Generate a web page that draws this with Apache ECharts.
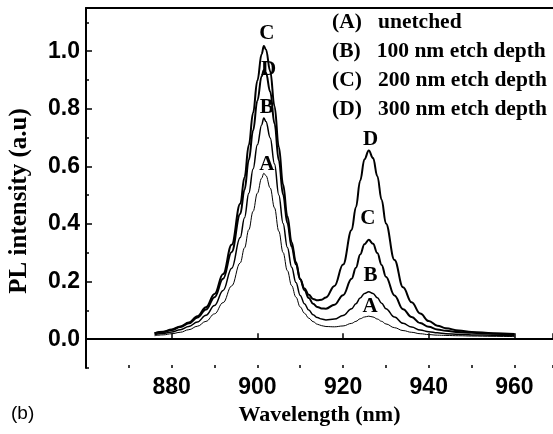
<!DOCTYPE html>
<html>
<head>
<meta charset="utf-8">
<script src="https://cdn.jsdelivr.net/npm/echarts@6/dist/echarts.min.js"></script>
<style>
  html, body { margin: 0; padding: 0; background: #fff; }
  #chart { width: 553px; height: 434px; }
</style>
</head>
<body>
<div id="chart"></div>
<script>
// wavelength samples (nm)
const wavelength = [876, 878, 880, 882, 884, 886, 888, 890, 892, 894, 896, 897, 898, 899, 900, 901, 901.5,
  902, 903, 904, 905, 906, 907, 908, 909, 910, 911, 912, 913, 914, 915, 916, 918, 920, 922,
  923, 924, 925, 926, 927, 928, 929, 930, 932, 934, 936, 938, 940, 942, 944, 947, 950, 955, 960];

// (A) unetched
const unetched = [0.012, 0.015, 0.019, 0.024, 0.033, 0.045, 0.062, 0.088, 0.127, 0.185, 0.265, 0.317, 0.380, 0.444, 0.507, 0.559, 0.576,
  0.568, 0.525, 0.456, 0.375, 0.301, 0.238, 0.186, 0.146, 0.112, 0.090, 0.073, 0.061, 0.052, 0.047, 0.044, 0.043, 0.046, 0.055,
  0.062, 0.071, 0.077, 0.080, 0.077, 0.070, 0.062, 0.053, 0.040, 0.030, 0.024, 0.019, 0.016, 0.014, 0.013, 0.012, 0.011, 0.010, 0.009];
// (B) 100 nm
const etch100 = [0.016, 0.020, 0.025, 0.033, 0.044, 0.060, 0.083, 0.117, 0.169, 0.246, 0.353, 0.422, 0.507, 0.591, 0.675, 0.744, 0.768,
  0.756, 0.699, 0.608, 0.501, 0.402, 0.318, 0.250, 0.197, 0.152, 0.123, 0.101, 0.085, 0.075, 0.070, 0.067, 0.070, 0.082, 0.106,
  0.123, 0.143, 0.159, 0.165, 0.159, 0.144, 0.125, 0.106, 0.077, 0.055, 0.042, 0.032, 0.026, 0.022, 0.019, 0.017, 0.015, 0.014, 0.012];
// (C) 200 nm
const etch200 = [0.021, 0.026, 0.034, 0.044, 0.058, 0.080, 0.111, 0.157, 0.226, 0.328, 0.470, 0.562, 0.674, 0.786, 0.898, 0.990, 1.018,
  1.006, 0.930, 0.809, 0.668, 0.537, 0.427, 0.337, 0.267, 0.208, 0.170, 0.143, 0.123, 0.112, 0.107, 0.106, 0.120, 0.153, 0.210,
  0.248, 0.294, 0.330, 0.345, 0.331, 0.299, 0.258, 0.217, 0.152, 0.104, 0.077, 0.056, 0.043, 0.034, 0.029, 0.025, 0.022, 0.019, 0.017];
// (D) 300 nm
const etch300 = [0.021, 0.025, 0.032, 0.042, 0.055, 0.075, 0.103, 0.146, 0.210, 0.303, 0.435, 0.519, 0.622, 0.725, 0.828, 0.913, 0.935,
  0.925, 0.859, 0.749, 0.621, 0.502, 0.403, 0.321, 0.259, 0.208, 0.176, 0.154, 0.140, 0.135, 0.137, 0.145, 0.185, 0.259, 0.379,
  0.458, 0.551, 0.625, 0.655, 0.629, 0.566, 0.484, 0.402, 0.275, 0.180, 0.128, 0.089, 0.063, 0.047, 0.038, 0.030, 0.025, 0.021, 0.018];

const curveKeys = ['A', 'B', 'C', 'D'];
const legendNames = ['(A)   unetched', '(B)   100 nm etch depth', '(C)   200 nm etch depth', '(D)   300 nm etch depth'];
// where the letters sit next to each peak [nm, intensity]
const letterSpots = {
  A: [[902.2, 0.608], [926.3, 0.113]],
  B: [[902.2, 0.803], [926.4, 0.22]],
  C: [[902.2, 1.061], [925.8, 0.42]],
  D: [[902.6, 0.935], [926.4, 0.692]]
};
const xTickLabels = [880, 900, 920, 940, 960];
const yTickLabels = ['0.0', '0.2', '0.4', '0.6', '0.8', '1.0'];

const X_MIN = 860, X_MAX = 969;
const Y_MIN = -0.1, Y_MAX = 1.15;
const W = 553, H = 434;
const LEFT = 86, RIGHT = 0, TOP = 8, BOTTOM = 66;
// second grid only carries the major y ticks/labels, starting at 0
const BOTTOM2 = BOTTOM + (0 - Y_MIN) / (Y_MAX - Y_MIN) * (H - TOP - BOTTOM);

const serif = '"Liberation Serif", "Times New Roman", serif';
const sans = '"Liberation Sans", Arial, sans-serif';

const seriesData = [unetched, etch100, etch200, etch300];
const widths = [1, 1.5, 2, 2];

const chart = echarts.init(document.getElementById('chart'));

chart.setOption({
  animation: false,
  backgroundColor: '#fff',
  grid: [
    {left: LEFT, right: RIGHT, top: TOP, bottom: BOTTOM, outerBoundsMode: 'none'},
    {left: LEFT, right: RIGHT, top: TOP, bottom: BOTTOM2, outerBoundsMode: 'none'}
  ],
  legend: {
    orient: 'vertical',
    left: 322, top: 6,
    icon: 'none',
    itemWidth: 0, itemHeight: 20, itemGap: 7,
    selectedMode: false,
    data: legendNames,
    textStyle: {fontFamily: serif, fontWeight: 'bold', fontSize: 21.5, lineHeight: 20, color: '#000'}
  },
  xAxis: [
    {
      // major ticks + labels
      type: 'value', gridIndex: 0, min: X_MIN, max: X_MAX, interval: 20,
      name: 'Wavelength (nm)', nameLocation: 'middle', nameGap: 34,
      nameTextStyle: {fontFamily: serif, fontWeight: 'bold', fontSize: 22, color: '#000'},
      axisLine: {lineStyle: {color: '#000', width: 2}},
      axisTick: {inside: true, length: 6, lineStyle: {color: '#000', width: 1.5}},
      splitLine: {show: false},
      axisLabel: {
        margin: 8, fontFamily: sans, fontWeight: 'bold', fontSize: 23, color: '#000',
        formatter: v => xTickLabels.includes(v) ? String(v) : ''
      }
    },
    {
      // frame line on top
      type: 'value', gridIndex: 0, position: 'top', min: X_MIN, max: X_MAX,
      axisLine: {lineStyle: {color: '#000', width: 2}},
      axisTick: {show: false}, axisLabel: {show: false}, splitLine: {show: false}
    },
    {
      // minor ticks every 10 nm
      type: 'value', gridIndex: 0, position: 'bottom', min: X_MIN, max: X_MAX, interval: 10,
      axisLine: {show: false},
      axisTick: {inside: true, length: 3, lineStyle: {color: '#000', width: 1.5}},
      axisLabel: {show: false}, splitLine: {show: false}
    },
    {type: 'value', gridIndex: 1, min: X_MIN, max: X_MAX, show: false}
  ],
  yAxis: [
    {
      type: 'value', gridIndex: 0, min: Y_MIN, max: Y_MAX, interval: 0.1,
      name: 'PL intensity (a.u)', nameLocation: 'middle', nameGap: 54, nameRotate: 90,
      nameTextStyle: {fontFamily: serif, fontWeight: 'bold', fontSize: 25, color: '#000', padding: [0, 26, 0, 0]},
      axisLine: {lineStyle: {color: '#000', width: 2}},
      axisTick: {inside: true, length: 3, lineStyle: {color: '#000', width: 1.5}},
      axisLabel: {show: false},
      splitLine: {show: false}
    },
    {
      type: 'value', gridIndex: 1, min: 0, max: Y_MAX, interval: 0.2,
      axisLine: {show: false},
      axisTick: {inside: true, length: 6, lineStyle: {color: '#000', width: 1.5}},
      splitLine: {show: false},
      axisLabel: {
        margin: 6, fontFamily: sans, fontWeight: 'bold', fontSize: 23, color: '#000',
        formatter: v => {
          const s = v.toFixed(1);
          return yTickLabels.includes(s) && Math.abs(v - Number(s)) < 1e-6 ? s : '';
        }
      }
    }
  ],
  series: curveKeys.map((key, i) => ({
    name: legendNames[i],
    type: 'line',
    xAxisIndex: 0, yAxisIndex: 0,
    data: wavelength.map((w, j) => [w, seriesData[i][j]]),
    smooth: 0.4,
    smoothMonotone: 'x',
    showSymbol: false,
    lineStyle: {color: '#000', width: widths[i]},
    itemStyle: {color: '#000'},
    markPoint: {
      symbol: 'circle', symbolSize: 1,
      itemStyle: {color: 'rgba(0,0,0,0)'},
      label: {
        show: true, position: 'inside', formatter: key,
        fontFamily: serif, fontWeight: 'bold', fontSize: 21, color: '#000'
      },
      data: letterSpots[key].map(p => ({coord: p}))
    }
  })),
  graphic: [
    {type: 'text', left: 11, top: 404, style: {text: '(b)', font: '19px ' + sans, fill: '#000'}}
  ]
});
</script>
</body>
</html>
